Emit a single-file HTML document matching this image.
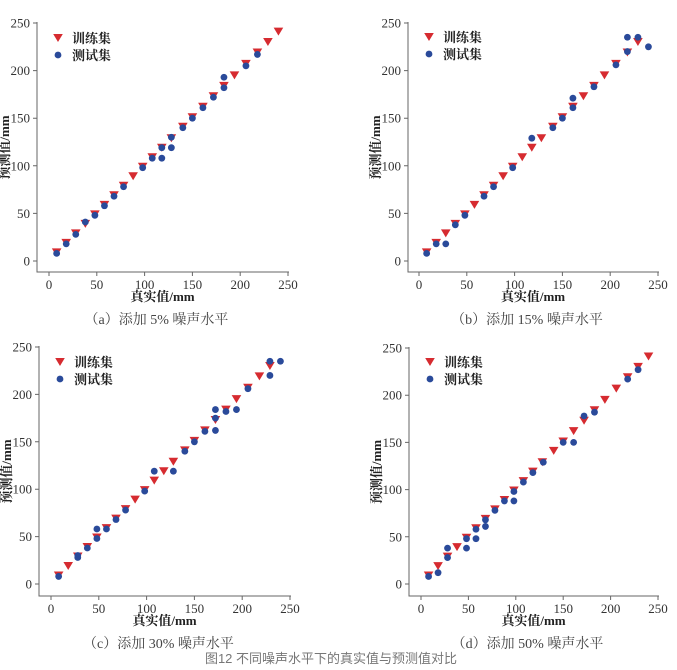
<!DOCTYPE html>
<html><head><meta charset="utf-8"><style>
body{margin:0;background:#fff;width:677px;height:670px;overflow:hidden}
svg{display:block}
</style></head><body>
<svg id="s" width="677" height="670" xmlns="http://www.w3.org/2000/svg" font-family="'Liberation Serif','Noto Serif CJK SC',serif"></svg>
<script>
const S=document.getElementById('s');let h='';
const xs=[8,18,28,38,48,58,68,78,88,98,108,118,128,140,150,161,172,183,194,206,218,229,240];
function panel(p){
 const X=v=>p.x0+(p.x250-p.x0)*v/250, Y=v=>p.y0+(p.y250-p.y0)*v/250;
 h+=`<g stroke="#666" stroke-width="1" fill="none"><path d="M${p.ax} ${p.y250-1}V${p.ay}H${p.x250+1}"/>`;
 for(let v=0;v<=250;v+=50){h+=`<path d="M${X(v)} ${p.ay}v4M${p.ax} ${Y(v)}h-4"/>`}
 h+='</g><g font-size="13" fill="#333">';
 for(let v=0;v<=250;v+=50){h+=`<text x="${X(v)}" y="${p.ay+17}" text-anchor="middle">${v}</text><text x="${p.ax-7}" y="${Y(v)+4.5}" text-anchor="end">${v}</text>`}
 h+='</g>';
 const cx=(p.ax+p.x250)/2, cy=(p.ay+p.y250)/2;
 h+=`<text x="${cx}" y="${p.ay+29}" text-anchor="middle" font-size="13" font-weight="bold" fill="#222">真实值/mm</text>`;
 h+=`<text transform="translate(${p.ax-28},${cy}) rotate(-90)" text-anchor="middle" font-size="13" font-weight="bold" fill="#222">预测值/mm</text>`;
 h+=`<text x="${cx-6}" y="${p.ay+52}" text-anchor="middle" font-size="14" fill="#444">${p.cap}</text>`;
 const tri=(x,y)=>`<path d="M${x-4.8} ${y-4}h9.6l-4.8 8z" fill="#d62b30"/>`;
 const cir=(x,y)=>`<circle cx="${x}" cy="${y}" r="3.4" fill="#2a4a9a"/>`;
 xs.forEach(v=>{if(v<=p.maxR)h+=tri(X(v),Y(v+1))});
 p.b.forEach(([a,b])=>h+=cir(X(a),Y(b)));
 h+=tri(p.lx,p.ly)+cir(p.lx,p.ly+17);
 h+=`<text x="${p.lx+14}" y="${p.ly+5}" font-size="13" font-weight="bold" fill="#222">训练集</text><text x="${p.lx+14}" y="${p.ly+22}" font-size="13" font-weight="bold" fill="#222">测试集</text>`;
}
panel({ax:37,ay:272,x0:49,x250:288,y0:261,y250:23,maxR:240,lx:58,ly:38,cap:'（a）添加 5% 噪声水平',
 b:[[8,8],[18,18],[28,28],[38,41],[48,48],[58,58],[68,68],[78,78],[98,98],[108,108],[118,108],[118,119],[128,119],[128,130],[140,140],[150,150],[161,161],[172,172],[183,182],[183,193],[206,205],[218,217]]});
panel({ax:408,ay:272,x0:419,x250:658,y0:261,y250:23,maxR:229,lx:429,ly:37,cap:'（b）添加 15% 噪声水平',
 b:[[8,8],[18,18],[28,18],[38,38],[48,48],[68,68],[78,78],[98,98],[118,129],[140,140],[150,150],[161,161],[161,171],[183,183],[206,206],[218,220],[218,235],[229,235],[240,225]]});
panel({ax:39,ay:596,x0:51,x250:290,y0:584,y250:347,maxR:229,lx:60,ly:362,cap:'（c）添加 30% 噪声水平',
 b:[[8,8],[28,28],[28,30],[38,38],[48,48],[48,58],[58,58],[68,68],[78,78],[98,98],[108,119],[128,119],[140,140],[150,150],[161,161],[172,162],[172,175],[172,184],[183,182],[194,184],[206,206],[229,220],[229,235],[240,235]]});
panel({ax:409,ay:596,x0:421,x250:658,y0:584,y250:348,maxR:240,lx:430,ly:362,cap:'（d）添加 50% 噪声水平',
 b:[[8,8],[18,12],[28,28],[28,38],[48,38],[48,48],[58,48],[58,58],[68,61],[68,68],[78,78],[88,88],[98,88],[98,98],[108,108],[118,118],[129,129],[150,150],[161,150],[172,178],[183,182],[218,217],[229,227]]});
h+=`<text x="331" y="663" text-anchor="middle" font-size="13" fill="#777" font-family="'Liberation Sans','Noto Sans CJK SC',sans-serif">图12 不同噪声水平下的真实值与预测值对比</text>`;
S.innerHTML=h;
</script>
</body></html>
